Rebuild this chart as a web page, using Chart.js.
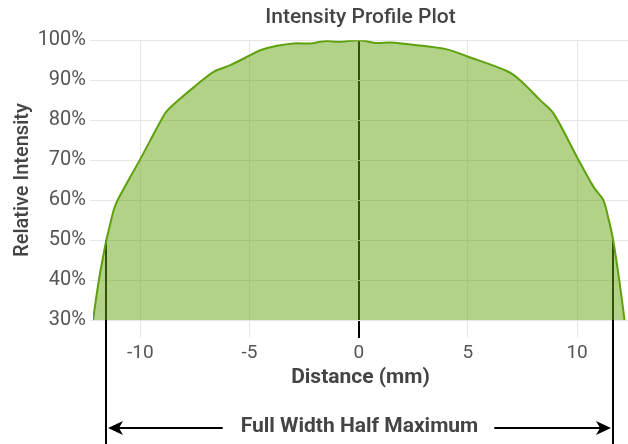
<!DOCTYPE html>
<html>
<head>
<meta charset="utf-8">
<script src="https://cdn.jsdelivr.net/npm/chart.js@4/dist/chart.umd.min.js"></script>
<style>
  html, body { margin: 0; padding: 0; background: #fff; }
  #wrap { width: 628px; height: 444px; }
</style>
</head>
<body>
<div id="wrap"><canvas id="canvas1"></canvas></div>
<script>
// distance (mm) and relative intensity (%)
const distance = [-12.17, -11.9, -11.56, -11.45, -11.22, -11.04, -10.03, -9.54, -9.05, -8.78, -8.17, -7.56, -6.65, -5.88, -4.97, -4.51, -3.74, -2.98, -2.22, -1.76, -1.46, -0.85, 0,
                  0.83, 1.44, 2.66, 4.04, 4.95, 6.78, 7.39, 8.31, 8.92, 9.99, 10.75, 11.2, 11.45, 11.65, 11.93, 12.17];
const intensity = [30, 40, 50, 52.5, 57.5, 60, 70, 75, 80, 82.3, 85.4, 88.2, 92.1, 93.75, 96.25, 97.5, 98.6, 99.2, 99.2, 99.6, 99.8, 99.6, 100,
                   99.3, 99.4, 98.75, 97.7, 96, 92.3, 90, 85, 81.7, 70.8, 63.3, 60, 55, 50, 40, 30];
const xTicks = [-10, -5, 0, 5, 10];
const halfMax = 50;
const fwhmLeft = -11.56;
const fwhmRight = 11.65;
const fwhmLabel = 'Full Width Half Maximum';

const points = distance.map((d, i) => ({ x: d, y: intensity[i] }));

const fwhmPlugin = {
    id: 'fwhm',
    beforeDatasetsDraw(chart) {
        const { ctx, scales: { x, y } } = chart;
        ctx.save();
        ctx.strokeStyle = '#000';
        ctx.lineWidth = 2;
        [fwhmLeft, fwhmRight].forEach(v => {
            const px = Math.round(x.getPixelForValue(v));
            ctx.beginPath();
            ctx.moveTo(px, y.getPixelForValue(halfMax));
            ctx.lineTo(px, chart.height);
            ctx.stroke();
        });
        ctx.restore();
    },
    afterDraw(chart) {
        const { ctx, scales: { x } } = chart;
        const left = Math.round(x.getPixelForValue(fwhmLeft));
        const right = Math.round(x.getPixelForValue(fwhmRight));
        const cy = 427;
        const ay = 428;
        ctx.save();
        ctx.font = 'bold 21px Roboto';
        ctx.fillStyle = '#444';
        ctx.textAlign = 'center';
        ctx.textBaseline = 'middle';
        const cx = (left + right) / 2;
        ctx.fillText(fwhmLabel, cx, cy);
        const w = ctx.measureText(fwhmLabel).width;

        ctx.strokeStyle = '#000';
        ctx.fillStyle = '#000';
        ctx.lineWidth = 2;
        // left arrow
        ctx.beginPath();
        ctx.moveTo(cx - w / 2 - 18, ay);
        ctx.lineTo(left + 10, ay);
        ctx.stroke();
        ctx.beginPath();
        ctx.moveTo(left + 2, ay);
        ctx.lineTo(left + 17, ay - 7);
        ctx.lineTo(left + 13, ay);
        ctx.lineTo(left + 17, ay + 7);
        ctx.closePath();
        ctx.fill();
        // right arrow
        ctx.beginPath();
        ctx.moveTo(cx + w / 2 + 16, ay);
        ctx.lineTo(right - 10, ay);
        ctx.stroke();
        ctx.beginPath();
        ctx.moveTo(right - 2, ay);
        ctx.lineTo(right - 17, ay - 7);
        ctx.lineTo(right - 13, ay);
        ctx.lineTo(right - 17, ay + 7);
        ctx.closePath();
        ctx.fill();
        ctx.restore();
    }
};

const ctx1 = document.getElementById('canvas1').getContext('2d');

const myChart1 = new Chart(ctx1, {
    type: 'line',
    data: {
        datasets: [{
            data: points,
            borderColor: '#5fa10d',
            backgroundColor: 'rgba(101, 166, 17, 0.5)',
            borderWidth: 2,
            fill: 'start',
            pointRadius: 0,
            tension: 0.3
        }]
    },
    plugins: [fwhmPlugin],
    options: {
        responsive: true,
        maintainAspectRatio: false,
        animation: false,
        layout: { padding: { top: 0, right: 0, bottom: 54, left: 0 } },
        plugins: {
            legend: { display: false },
            tooltip: { enabled: false },
            title: {
                display: true,
                text: 'Intensity Profile Plot',
                fullSize: false,
                color: '#444',
                font: { family: 'Roboto', size: 21, weight: '500' },
                padding: { top: 5, bottom: 10 }
            }
        },
        scales: {
            x: {
                type: 'linear',
                min: -12.17,
                max: 12.33,
                afterBuildTicks: scale => { scale.ticks = xTicks.map(v => ({ value: v })); },
                afterFit: scale => { scale.height = 70; },
                border: { display: false },
                grid: {
                    color: ctx => (ctx.tick && ctx.tick.value === 0 ? '#000' : '#e6e6e6'),
                    lineWidth: ctx => (ctx.tick && ctx.tick.value === 0 ? 2 : 1),
                    tickLength: 18
                },
                ticks: {
                    color: '#555',
                    font: { family: 'Roboto', size: 19 },
                    padding: 4,
                    maxRotation: 0
                },
                title: {
                    display: true,
                    text: 'Distance (mm)',
                    color: '#444',
                    font: { family: 'Roboto', size: 21, weight: 'bold' },
                    padding: { top: 0, bottom: 0 }
                }
            },
            y: {
                min: 30,
                max: 100,
                afterFit: scale => { scale.width = 93; },
                border: { display: false },
                grid: { color: '#e6e6e6', tickLength: 3 },
                ticks: {
                    stepSize: 10,
                    color: '#555',
                    font: { family: 'Roboto', size: 20 },
                    padding: 4,
                    callback: v => v + '%'
                },
                title: {
                    display: true,
                    text: 'Relative Intensity',
                    color: '#444',
                    font: { family: 'Roboto', size: 20, weight: '500' },
                    padding: { top: 11, bottom: 0 }
                }
            }
        }
    }
});
</script>
</body>
</html>
